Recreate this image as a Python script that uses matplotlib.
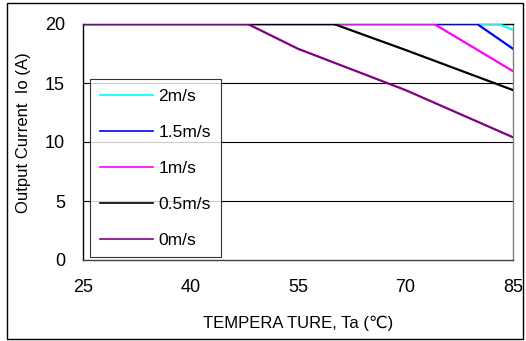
import matplotlib
matplotlib.use("Agg")
import matplotlib.pyplot as plt
from matplotlib.patches import Rectangle

plt.rcParams['font.family'] = ['Liberation Sans', 'DejaVu Sans', 'Noto Sans CJK SC']

labels = ["2m/s", "1.5m/s", "1m/s", "0.5m/s", "0m/s"]
colors = ["#00FFFF", "#0000FF", "#FF00FF", "#000000", "#800080"]
temps = [
    [25, 83, 85],
    [25, 80, 85],
    [25, 74, 85],
    [25, 60, 70, 85],
    [25, 48, 55, 70, 85],
]
currents = [
    [20, 20, 19.5],
    [20, 20, 17.9],
    [20, 20, 16.0],
    [20, 20, 17.8, 14.4],
    [20, 20, 17.9, 14.4, 10.4],
]
xticks = [25, 40, 55, 70, 85]
yticks = [0, 5, 10, 15, 20]

fig = plt.figure(figsize=(5.26, 3.41), dpi=100)
fig.patches.append(Rectangle((7/526, 2/341), 516/526, 336/341, transform=fig.transFigure,
                             fill=False, edgecolor='black', linewidth=1.0))
ax = fig.add_axes([83/526, 1-260/341, 430/526, 236/341])

for y in yticks[1:]:
    ax.axhline(y, color='black', linewidth=0.8, zorder=1)

for t, c, col, lab in zip(temps, currents, colors, labels):
    ax.plot(t, c, color=col, linewidth=1.6, label=lab, zorder=3)

ax.set_xlim(25, 85)
ax.set_ylim(0, 20)
ax.set_xticks(xticks)
ax.set_yticks(yticks)
ax.tick_params(axis='both', length=0, labelsize=13)
ax.tick_params(axis='x', pad=14)
ax.tick_params(axis='y', pad=13)

ax.spines['left'].set_color('black')
ax.spines['bottom'].set_color('#404040')
ax.spines['right'].set_color('#808080')
ax.spines['top'].set_color('black')
for s in ax.spines.values():
    s.set_linewidth(1.0)

ax.set_xlabel("TEMPERA TURE, Ta (℃)", fontsize=12, labelpad=14)
ax.set_ylabel("Output Current  Io (A)", fontsize=12)
ax.yaxis.set_label_coords(-0.121, 0.538)

leg = ax.legend(loc='upper left', bbox_to_anchor=(0.0163, 0.767), fontsize=12.5,
                frameon=True, fancybox=False, handlelength=3.05, handletextpad=0.35,
                labelspacing=1.2, borderpad=0.55, borderaxespad=0)
leg.get_frame().set_edgecolor('black')
leg.get_frame().set_linewidth(0.8)
for h in leg.get_lines():
    h.set_linewidth(1.2)

fig.savefig("out.png", dpi=100)
